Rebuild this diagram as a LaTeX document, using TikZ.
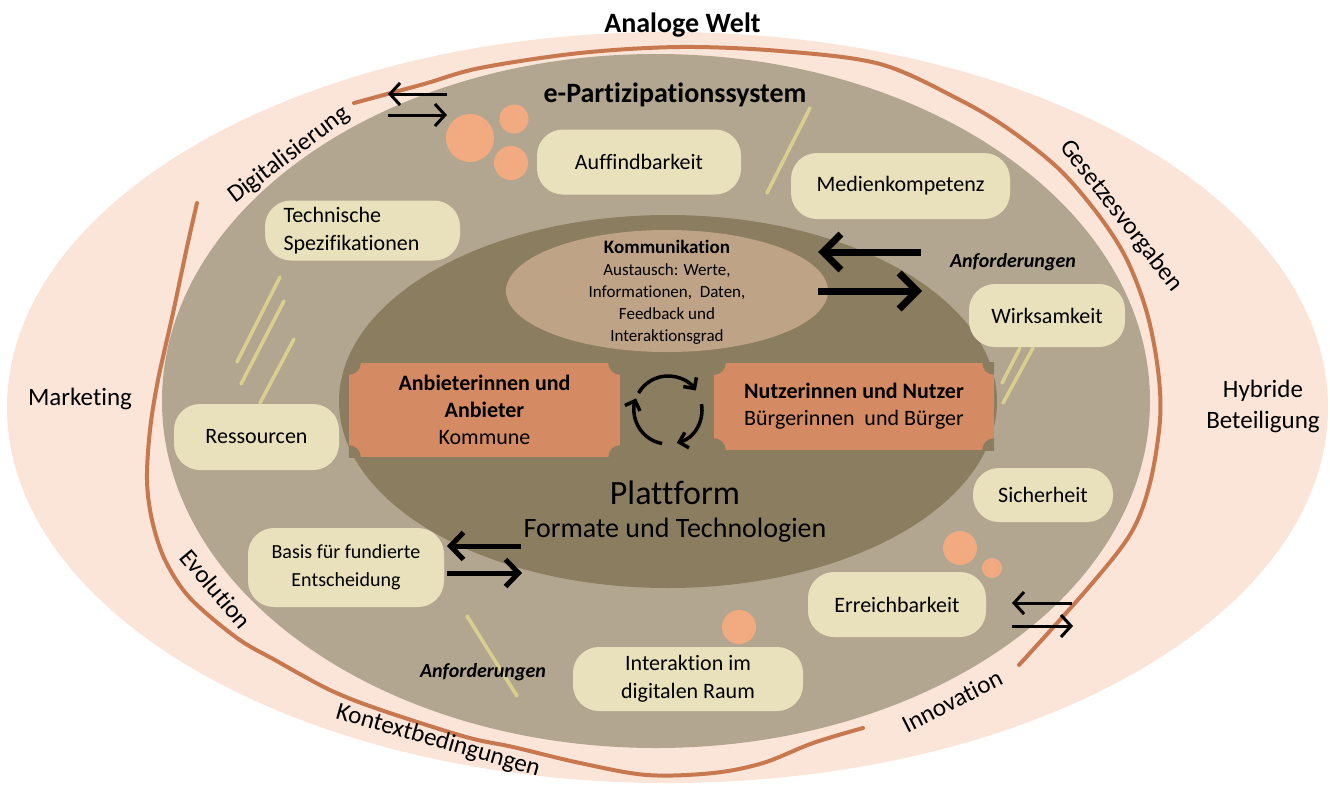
\documentclass[tikz,border=0pt]{standalone}
\usepackage{fontspec}
\setmainfont{Carlito}[Ligatures=CommonOff]
\usetikzlibrary{arrows.meta}

\definecolor{worldc}{HTML}{FBE5D9}
\definecolor{systemc}{HTML}{B3A690}
\definecolor{platformc}{HTML}{8B7D60}
\definecolor{kommc}{HTML}{BFA387}
\definecolor{actorc}{HTML}{D48A62}
\definecolor{pillc}{HTML}{E8E1BC}
\definecolor{dotc}{HTML}{F2AA80}
\definecolor{bandc}{HTML}{C8784F}
\definecolor{strichc}{HTML}{D9D08F}

\newcommand{\fsz}[2]{\fontsize{#1pt}{#2pt}\selectfont}

\tikzset{
	pill/.style={fill=pillc, rounded corners=26pt, align=center, inner sep=0pt, font=\fsz{22}{28}},
	actor/.style={fill=actorc, align=center, inner sep=0pt, font=\fsz{22}{27}},
	ring/.style={font=\fsz{25}{31}, inner sep=0pt},
	req/.style={font=\fsz{20}{24}\bfseries\itshape, inner sep=0pt, anchor=base},
	strich/.style={strichc, line width=3.5pt, line cap=round},
	band/.style={bandc, line width=4pt, line cap=round},
	pairthin/.style={line width=3pt, -{Straight Barb[length=10pt, width=22pt]}},
	pairmid/.style={line width=5pt, -{Straight Barb[length=13pt, width=27pt]}},
	pairbig/.style={line width=7pt, -{Straight Barb[length=18pt, width=36pt]}},
	turn/.style={line width=3.5pt, -{Straight Barb[length=8pt, width=16pt]}}
}

\begin{document}
\begin{tikzpicture}[x=1pt, y=-1pt]
	\useasboundingbox (0,0) rectangle (1330,785);
	% rings
	\fill[worldc] (667.5,407.5) ellipse [x radius=660.5pt, y radius=375.5pt];
	\fill[systemc] (656,401) ellipse [x radius=494pt, y radius=347pt];
	% context strokes
	\draw[band] plot[smooth, tension=0.55] coordinates {(354,103) (424,84) (480,68) (580,53) (680,47) (780,51) (880,64) (960,100) (1010,130) (1060,170) (1100,217) (1127,260) (1147,313) (1158,370) (1160,420) (1150,483) (1131,533) (1089,587) (1019,665)};
	\draw[band] plot[smooth, tension=0.55] coordinates {(197,203) (187,247) (173,313) (158,380) (150,430) (147,480) (152,520) (165,560) (190,598) (237,638) (275,660) (330,690) (381,710) (466,737) (513,747) (580,763) (647,775) (713,773) (763,763) (813,743) (863,728)};
	\fill[platformc] (668,401.5) ellipse [x radius=329pt, y radius=186.5pt];
	\fill[kommc] (667,291) ellipse [x radius=161pt, y radius=61pt];
	% decorative strokes
	\draw[strich] (810,108) -- (767,193);
	\draw[strich] (280,277) -- (237,362);
	\draw[strich] (284,301) -- (241,384);
	\draw[strich] (294,339) -- (260,403);
	\draw[strich] (1020,348) -- (1002,383);
	\draw[strich] (1033,348) -- (1003,403);
	\draw[strich] (467,616) -- (517,696);
	% dots
	\fill[dotc] (470,138) circle (24pt);
	\fill[dotc] (514,119) circle (14.5pt);
	\fill[dotc] (511,163) circle (17pt);
	\fill[dotc] (960,548) circle (17pt);
	\fill[dotc] (992,568) circle (10pt);
	\fill[dotc] (739,627) circle (17pt);
	% requirement pills
	\node[pill, minimum width=204pt, minimum height=65pt] (auffind) at (639,162) {Auffindbarkeit};
	\node[pill, minimum width=219pt, minimum height=66pt] (medien) at (900.5,186) {Medienkompetenz};
	\node[pill, align=left, text width=158pt, minimum width=195pt, minimum height=60pt] (technik) at (362.5,230.5) {Technische\\Spezifikationen};
	\node[pill, minimum width=156pt, minimum height=63pt] (wirksam) at (1047,315.5) {Wirksamkeit};
	\node[pill, minimum width=165pt, minimum height=66pt] (ressourcen) at (256.5,437) {Ressourcen};
	\node[pill, minimum width=140pt, minimum height=54pt] (sicher) at (1043,495) {Sicherheit};
	\node[pill, font=\fsz{20}{28}, minimum width=196pt, minimum height=79pt] (basis) at (346,567.5) {Basis für fundierte\\Entscheidung};
	\node[pill, minimum width=178pt, minimum height=65pt] (erreich) at (897,604.5) {Erreichbarkeit};
	\node[pill, minimum width=230pt, minimum height=64pt] (raum) at (688,679) {Interaktion im\\digitalen Raum};
	% actors
	\node[actor, minimum width=271pt, minimum height=94pt] (anbieter) at (484.5,410) {{\bfseries Anbieterinnen und}\\{\bfseries Anbieter}\\Kommune};
	\node[actor, minimum width=280pt, minimum height=87pt] (nutzer) at (854,406.5) {{\bfseries Nutzerinnen und Nutzer}\\Bürgerinnen\ \ und Bürger};
	\foreach \b in {anbieter, nutzer} {
		\begin{scope}
			\clip (\b.south west) rectangle (\b.north east);
			\foreach \c in {north east, north west, south east, south west}
				\fill[platformc] (\b.\c) circle (12pt);
		\end{scope}
	}
	% exchange cycle
	\coordinate (cyc) at (668,410);
	\draw[turn] ([shift={(150:34pt)}]cyc) arc[start angle=150, end angle=35, radius=34pt];
	\draw[turn] ([shift={(10:34pt)}]cyc) arc[start angle=10, end angle=-75, radius=34pt];
	\draw[turn] ([shift={(-100:34pt)}]cyc) arc[start angle=-100, end angle=-200, radius=34pt];
	% labels
	\node[font=\fsz{28}{32}\bfseries, anchor=base, inner sep=0pt] (welt) at (682.5,32) {Analoge Welt};
	\node[font=\fsz{28}{32}\bfseries, anchor=base, inner sep=0pt] (system) at (675,102) {e-Partizipationssystem};
	\node[align=center, font=\fsz{17}{22}, inner sep=0pt] (komm) at (667,292) {{\fsz{19}{22}\bfseries Kommunikation}\\Austausch: Werte,\\Informationen,\ \ Daten,\\Feedback und\\Interaktionsgrad};
	\node[font=\fsz{34}{38}, anchor=base, inner sep=0pt] (plattform) at (675,504) {Plattform};
	\node[font=\fsz{28}{32}, anchor=base, inner sep=0pt] (formate) at (675,537) {Formate und Technologien};
	\node[req] (anf1) at (1013,267) {Anforderungen};
	\node[req] (anf2) at (483,677) {Anforderungen};
	\node[ring] (marketing) at (80,399) {Marketing};
	\node[ring, align=center] (hybrid) at (1263,406) {Hybride\\Beteiligung};
	\node[ring, rotate=37] (digital) at (289,155) {Digitalisierung};
	\node[ring, rotate=-52] (gesetz) at (1121,216) {Gesetzesvorgaben};
	\node[ring, rotate=-50] (evolution) at (216,589) {Evolution};
	\node[ring, rotate=-16] (kontext) at (438,741) {Kontextbedingungen};
	\node[ring, rotate=27] (innovation) at (952,701) {Innovation};
	% exchange arrows
	\coordinate (dig-a) at (388,94);
	\coordinate (dig-b) at (447,94);
	\coordinate (dig-c) at (388,115);
	\coordinate (dig-d) at (447,115);
	\draw[pairthin] (dig-b) -- (dig-a);
	\draw[pairthin] (dig-c) -- (dig-d);
	\coordinate (kom-a) at (818,252);
	\coordinate (kom-b) at (921,252);
	\coordinate (kom-c) at (818,291);
	\coordinate (kom-d) at (922,291);
	\draw[pairbig] (kom-b) -- (kom-a);
	\draw[pairbig] (kom-c) -- (kom-d);
	\coordinate (bas-a) at (447,546);
	\coordinate (bas-b) at (521,546);
	\coordinate (bas-c) at (447,573);
	\coordinate (bas-d) at (522,573);
	\draw[pairmid] (bas-b) -- (bas-a);
	\draw[pairmid] (bas-c) -- (bas-d);
	\coordinate (err-a) at (1012,603);
	\coordinate (err-b) at (1072,603);
	\coordinate (err-c) at (1012,626);
	\coordinate (err-d) at (1073,626);
	\draw[pairthin] (err-b) -- (err-a);
	\draw[pairthin] (err-c) -- (err-d);
\end{tikzpicture}
\end{document}
